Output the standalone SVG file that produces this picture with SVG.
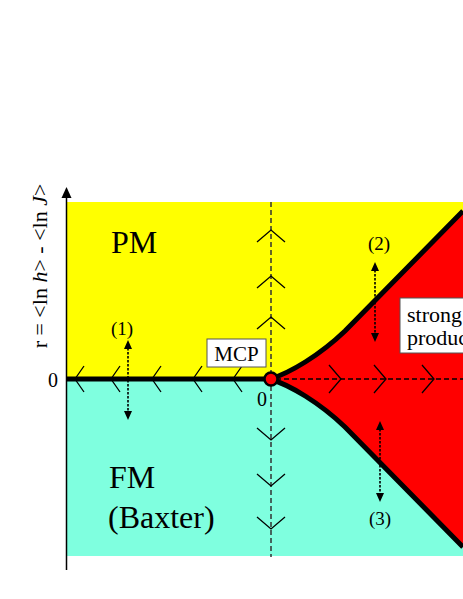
<svg xmlns="http://www.w3.org/2000/svg" width="463" height="599" viewBox="0 0 463 599">
<style>
text{font-family:"Liberation Serif","Times New Roman",serif;fill:#000}
.chev{fill:none;stroke:#000;stroke-width:1.3}
.dash{fill:none;stroke:#333;stroke-width:1.5;stroke-dasharray:5,3}
.hdash{fill:none;stroke:#000;stroke-width:1.3;stroke-dasharray:5,3}
.dot{fill:none;stroke:#000;stroke-width:1.6;stroke-dasharray:2.5,1.5}
.box{fill:#fff;stroke:#555;stroke-width:1}
</style>
<g id="regions">
<rect x="67" y="202" width="396" height="177" fill="#FFFF00"/>
<rect x="67" y="379" width="396" height="177" fill="#7FFFDF"/>
<path d="M270,379 C290,373 320,355 345,331 L463,211 L463,547 L345,427 C320,403 290,385 270,379 Z" fill="#FF0000"/>
</g>
<g id="connectors">
<line x1="66.5" y1="570" x2="66.5" y2="197" stroke="#000" stroke-width="1.5"/>
<path d="M66.5,187 L61.5,198 L71.5,198 Z" fill="#000"/>
<line class="dash" x1="271" y1="202" x2="271" y2="557"/>
<line class="hdash" x1="276" y1="379" x2="463" y2="379"/>
<line x1="67" y1="379" x2="270" y2="379" stroke="#000" stroke-width="5"/>
<path d="M270,379 C290,373 320,355 345,331 L463,211" fill="none" stroke="#000" stroke-width="5"/>
<path d="M270,379 C290,385 320,403 345,427 L463,547" fill="none" stroke="#000" stroke-width="5"/>
<g class="chev">
<path d="M84,366 L75,379 L84,392"/>
<path d="M120,366 L111,379 L120,392"/>
<path d="M161,366 L152,379 L161,392"/>
<path d="M202,366 L193,379 L202,392"/>
<path d="M242,366 L233,379 L242,392"/>
<path d="M257,242 L271,230 L285,242"/>
<path d="M257,288 L271,276 L285,288"/>
<path d="M257,329 L271,317 L285,329"/>
<path d="M257,428 L271,440 L285,428"/>
<path d="M257,474 L271,486 L285,474"/>
<path d="M257,517 L271,529 L285,517"/>
<path d="M329,365 L341,379 L329,393"/>
<path d="M374,365 L386,379 L374,393"/>
<path d="M422,365 L434,379 L422,393"/>
</g>
<line class="dot" x1="128" y1="348" x2="128" y2="412"/>
<path d="M128,340 L124,349 L132,349 Z M128,420 L124,411 L132,411 Z" fill="#000"/>
<line class="dot" x1="375" y1="270" x2="375" y2="334"/>
<path d="M375,262 L371,271 L379,271 Z M375,342 L371,333 L379,333 Z" fill="#000"/>
<line class="dot" x1="380" y1="429" x2="380" y2="494"/>
<path d="M380,421 L376,430 L384,430 Z M380,502 L376,493 L384,493 Z" fill="#000"/>
</g>
<g id="axis-label">
<text transform="translate(47,266) rotate(-90)" text-anchor="middle" font-size="22">r = &lt;ln <tspan font-style="italic">h</tspan>&gt; - &lt;ln <tspan font-style="italic">J</tspan>&gt;</text>
<text x="48" y="387" font-size="20">0</text>
<text x="257" y="406" font-size="20">0</text>
</g>
<g id="node-pm"><text x="111" y="253" font-size="32">PM</text></g>
<g id="node-fm"><text x="109" y="488" font-size="32">FM</text><text x="108" y="528" font-size="32">(Baxter)</text></g>
<g id="node-mcp">
<rect class="box" x="207" y="339" width="59" height="28"/>
<text x="236.5" y="361" font-size="21" text-anchor="middle">MCP</text>
<circle cx="271" cy="379" r="6.5" fill="#FF0000" stroke="#000" stroke-width="2.5"/>
</g>
<g id="node-strong">
<rect class="box" x="400" y="298" width="80" height="55"/>
<text x="407" y="322" font-size="22">strong</text>
<text x="407" y="345" font-size="22">product</text>
</g>
<g id="label-1"><text x="122" y="335" font-size="19" text-anchor="middle">(1)</text></g>
<g id="label-2"><text x="379" y="250" font-size="19" text-anchor="middle">(2)</text></g>
<g id="label-3"><text x="380" y="525" font-size="19" text-anchor="middle">(3)</text></g>
</svg>
